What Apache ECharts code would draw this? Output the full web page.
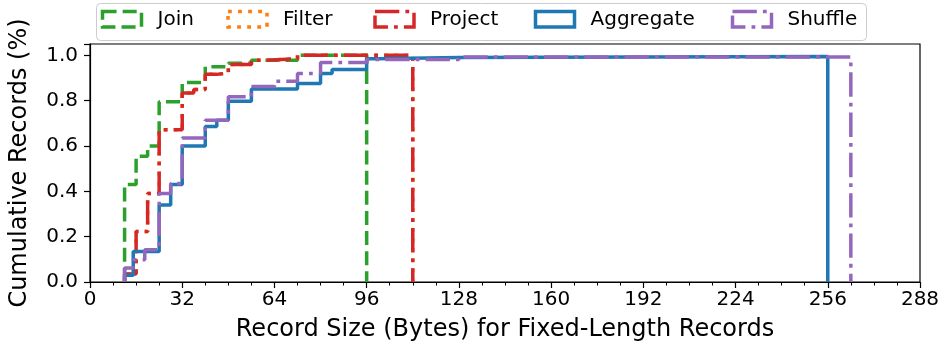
<!DOCTYPE html>
<html><head><meta charset="utf-8">
<script src="https://cdn.jsdelivr.net/npm/echarts@6/dist/echarts.min.js"></script>
<style>html,body{margin:0;padding:0;background:#fff}#c{width:943px;height:348px}</style>
</head><body><div id="c"></div>
<script>
// ---- data ----
const seriesNames = ['Join', 'Filter', 'Project', 'Aggregate', 'Shuffle'];
const xTicks = [0, 32, 64, 96, 128, 160, 192, 224, 256, 288];
const yTicks = [0.0, 0.2, 0.4, 0.6, 0.8, 1.0];

// record size (bytes) where each CDF step starts, and the cumulative fraction after it
const joinX = [12, 12, 16, 20, 24, 32, 40, 48, 56, 72, 96, 96];
const joinY = [0, 0.43, 0.555, 0.6, 0.795, 0.88, 0.95, 0.965, 0.978, 1.0, 1.0, 0];

const filterX = [12, 12, 16, 20, 24, 32, 36, 40, 44, 48, 56, 60, 72, 112, 112];
const filterY = [0, 0.035, 0.223, 0.39, 0.672, 0.834, 0.849, 0.916, 0.922, 0.96, 0.978, 0.985, 1.0, 1.0, 0];

const projectX = [12, 12, 16, 20, 24, 32, 36, 40, 44, 48, 56, 60, 72, 112, 112];
const projectY = [0, 0.035, 0.223, 0.39, 0.672, 0.834, 0.849, 0.916, 0.922, 0.96, 0.978, 0.985, 1.0, 1.0, 0];

const aggregateX = [12, 12, 15, 24, 28, 32, 40, 44, 48, 56, 72, 80, 84, 96, 100, 128, 256, 256];
const aggregateY = [0, 0.03, 0.135, 0.34, 0.43, 0.6, 0.686, 0.714, 0.797, 0.852, 0.876, 0.92, 0.938, 0.985, 0.99, 0.995, 0.995, 0];

const shuffleX = [12, 12, 15, 19, 24, 28, 32, 40, 48, 56, 64, 72, 80, 96, 128, 264, 264];
const shuffleY = [0, 0.062, 0.098, 0.142, 0.39, 0.435, 0.635, 0.714, 0.817, 0.862, 0.886, 0.92, 0.968, 0.982, 0.993, 0.993, 0];

// ---- styles ----
const colors = ['#2ca02c', '#ff7f0e', '#d62728', '#1f77b4', '#9467bd'];
const LW = 3.8;
const dashes = [
  [3.7 * LW, 1.6 * LW],
  [1 * LW, 1.65 * LW],
  [6.4 * LW, 1.6 * LW, 1 * LW, 1.6 * LW],
  'solid',
  [6.4 * LW, 1.6 * LW, 1 * LW, 1.6 * LW]
];
const xsAll = [joinX, filterX, projectX, aggregateX, shuffleX];
const ysAll = [joinY, filterY, projectY, aggregateY, shuffleY];

const FONT = 'DejaVu Sans';

const series = seriesNames.map((name, i) => ({
  name: name,
  type: 'line',
  step: 'end',
  showSymbol: false,
  symbol: 'none',
  animation: false,
  data: xsAll[i].map((x, k) => [x, ysAll[i][k]]),
  lineStyle: { color: colors[i], width: 3.5, type: dashes[i], cap: 'butt' },
  itemStyle: { color: colors[i] },
  z: 2 + i
}));

// legend drawn as graphics (icon rectangles + text)
const legendIconX = [102.5, 228, 375, 535.5, 732.5];
const graphics = [{
  type: 'rect', left: 96, top: 3, z: 100,
  shape: { width: 770, height: 37, r: 4 },
  style: { fill: '#fff', stroke: '#cccccc', lineWidth: 1 }
}];
seriesNames.forEach((name, i) => {
  graphics.push({
    type: 'rect', x: legendIconX[i], y: 11.5, z: 101,
    shape: { width: 39, height: 15.5 },
    style: { fill: 'none', stroke: colors[i], lineWidth: 3.5,
             lineDash: dashes[i] === 'solid' ? null : dashes[i] }
  });
  graphics.push({
    type: 'text', x: legendIconX[i] + 55, y: 20, z: 101,
    style: { text: name, fill: '#000', font: '20px "' + FONT + '"', textVerticalAlign: 'middle' }
  });
});

const chart = echarts.init(document.getElementById('c'), null, { renderer: 'canvas' });
chart.setOption({
  animation: false,
  backgroundColor: '#fff',
  grid: { left: 86, right: 23, top: 44, bottom: 66, show: true, borderColor: '#000', borderWidth: 1.2, backgroundColor: 'transparent' },
  xAxis: {
    type: 'value', min: xTicks[0], max: xTicks[xTicks.length - 1], interval: 32,
    name: 'Record Size (Bytes) for Fixed-Length Records',
    nameLocation: 'middle', nameGap: 36,
    nameTextStyle: { fontFamily: FONT, fontSize: 24, color: '#000' },
    axisLine: { lineStyle: { color: '#000', width: 1.2 } },
    axisTick: { show: true, length: 6, lineStyle: { color: '#000', width: 1.2 } },
    minorTick: { show: true, splitNumber: 4, length: 3.5, lineStyle: { color: '#000', width: 1 } },
    splitLine: { show: false },
    axisLabel: { fontFamily: FONT, fontSize: 20, color: '#000', margin: 8 }
  },
  yAxis: {
    type: 'value', min: 0, max: 1.05, interval: 0.2,
    name: 'Cumulative Records (%)',
    nameLocation: 'middle', nameGap: 58, nameRotate: 90,
    nameTextStyle: { fontFamily: FONT, fontSize: 24, color: '#000' },
    axisLine: { show: true, lineStyle: { color: '#000', width: 1.2 } },
    axisTick: { show: true, length: 6, lineStyle: { color: '#000', width: 1.2 } },
    splitLine: { show: false },
    axisLabel: {
      fontFamily: FONT, fontSize: 20, color: '#000', margin: 12,
      formatter: v => (v > 1.0001 ? '' : v.toFixed(1))
    }
  },
  graphic: graphics,
  series: series
});
</script></body></html>
